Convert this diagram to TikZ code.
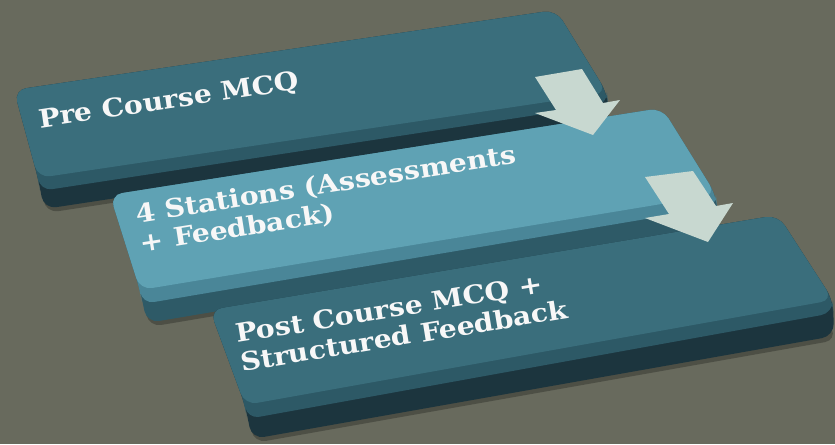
\documentclass[tikz,border=0pt]{standalone}
\usepackage{fontspec}
\usepackage{tikz}
\usetikzlibrary{calc}

\newfontfamily\slabfont[FakeStretch=1.11]{DejaVu Serif}

\definecolor{bgolive}{HTML}{686A5D}
\definecolor{tealtop}{HTML}{3A6E7C}
\definecolor{tealbevel}{HTML}{2D5966}
\definecolor{tealfront}{HTML}{1C353E}
\definecolor{skytop}{HTML}{5FA2B4}
\definecolor{skybevel}{HTML}{4A8698}
\definecolor{skyfront}{HTML}{2E5A67}
\definecolor{arrowmint}{HTML}{C8D8D0}

\begin{document}
\begin{tikzpicture}[
    x=0.02cm, y=-0.02cm,
    boxshadow/.style={fill=black, opacity=0.25, rounded corners=7pt},
    slab/.style={rounded corners=7pt},
    steptext/.style={font=\slabfont\bfseries\fontsize{14.5}{16.5}\selectfont, text=white!94!gray, align=left, anchor=north west, inner sep=0pt},
    flowarrow/.style={fill=arrowmint}
]

% Background
\fill[bgolive] (0,0) rectangle (835,444);
\useasboundingbox (0,0) rectangle (835,444);

% Box 1: Pre Course MCQ
\coordinate (b1tl) at (14,90);
\coordinate (b1tr) at (556,10);
\coordinate (b1br) at (607,93);
\coordinate (b1bl) at (38,178);
\fill[boxshadow] ($(b1tl)+(2,4)$) -- ($(b1tr)+(2,4)$) -- ($(b1br)+(5,34)$) -- ($(b1bl)+(8,35)$) -- ($(b1bl)+(2,4)$) -- cycle;
\fill[slab, tealfront] (b1tl) -- (b1tr) -- (b1br) -- ($(b1br)+(3,30)$) -- ($(b1bl)+(6,31)$) -- (b1bl) -- cycle;
\fill[slab, tealbevel] (b1tl) -- (b1tr) -- (b1br) -- ($(b1br)+(1,11)$) -- ($(b1bl)+(2,13)$) -- (b1bl) -- cycle;
\fill[slab, tealtop] (b1tl) -- (b1tr) -- (b1br) -- (b1bl) -- cycle;

% Box 2: 4 Stations
\coordinate (b2tl) at (110,195);
\coordinate (b2tr) at (662,108);
\coordinate (b2br) at (716,195);
\coordinate (b2bl) at (140,290);
\fill[boxshadow] ($(b2tl)+(2,4)$) -- ($(b2tr)+(2,4)$) -- ($(b2br)+(5,36)$) -- ($(b2bl)+(9,37)$) -- ($(b2bl)+(2,4)$) -- cycle;
\fill[slab, skyfront] (b2tl) -- (b2tr) -- (b2br) -- ($(b2br)+(3,32)$) -- ($(b2bl)+(7,33)$) -- (b2bl) -- cycle;
\fill[slab, skybevel] (b2tl) -- (b2tr) -- (b2br) -- ($(b2br)+(1,12)$) -- ($(b2bl)+(2,14)$) -- (b2bl) -- cycle;
\fill[slab, skytop] (b2tl) -- (b2tr) -- (b2br) -- (b2bl) -- cycle;

% Box 3: Post Course MCQ
\coordinate (b3tl) at (210,310);
\coordinate (b3tr) at (778,215);
\coordinate (b3br) at (833,300);
\coordinate (b3bl) at (245,405);
\fill[boxshadow] ($(b3tl)+(2,4)$) -- ($(b3tr)+(2,4)$) -- ($(b3br)+(4,40)$) -- ($(b3bl)+(9,38)$) -- ($(b3bl)+(2,4)$) -- cycle;
\fill[slab, tealfront] (b3tl) -- (b3tr) -- (b3br) -- ($(b3br)+(1,36)$) -- ($(b3bl)+(7,34)$) -- (b3bl) -- cycle;
\fill[slab, tealbevel] (b3tl) -- (b3tr) -- (b3br) -- ($(b3br)+(0,13)$) -- ($(b3bl)+(2,14)$) -- (b3bl) -- cycle;
\fill[slab, tealtop] (b3tl) -- (b3tr) -- (b3br) -- (b3bl) -- cycle;

% Labels
\node[steptext, rotate=8.5] (pre) at (37,109) {Pre Course MCQ};
\node[steptext, rotate=9] (stations) at (134,204) {4 Stations (Assessments\\+ Feedback)};
\node[steptext, rotate=9.3] (post) at (234,324) {Post Course MCQ +\\Structured Feedback};

% Arrows between steps
\fill[flowarrow] (535,77) -- (582,69) -- (603,103) -- (620,100) -- (593,135) -- (535,113) -- (556,110) -- cycle;
\fill[flowarrow] (645,177) -- (693,171) -- (716,206) -- (733,203) -- (708,242) -- (645,218) -- (669,214) -- cycle;

\end{tikzpicture}
\end{document}
